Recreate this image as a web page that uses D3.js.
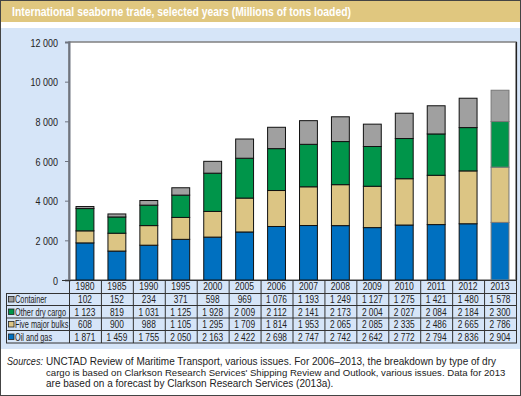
<!DOCTYPE html>
<html>
<head>
<meta charset="utf-8">
<script src="https://cdn.jsdelivr.net/npm/d3@7"></script>
<style>
  html, body { margin: 0; padding: 0; background: #fff; }
  svg { display: block; }
</style>
</head>
<body>
<svg id="chart" width="521" height="396"></svg>
<script>
const title = "International seaborne trade, selected years (Millions of tons loaded)";
const years = ["1980","1985","1990","1995","2000","2005","2006","2007","2008","2009","2010","2011","2012","2013"];
const seriesNames = ["Oil and gas","Five major bulks","Other dry cargo","Container"];
const oilGas       = [1871,1459,1755,2050,2163,2422,2698,2747,2742,2642,2772,2794,2836,2904];
const fiveBulks    = [608,900,988,1105,1295,1709,1814,1953,2065,2085,2335,2486,2665,2786];
const otherDry     = [1123,819,1031,1125,1928,2009,2112,2141,2173,2004,2027,2084,2184,2300];
const container    = [102,152,234,371,598,969,1076,1193,1249,1127,1275,1421,1480,1578];
const yTicks = [0,2000,4000,6000,8000,10000,12000];
const tableOrder = ["Container","Other dry cargo","Five major bulks","Oil and gas"];
const sourceLines = [
  "UNCTAD Review of Maritime Transport, various issues. For 2006\u20132013, the breakdown by type of dry",
  "cargo is based on Clarkson Research Services' Shipping Review and Outlook, various issues. Data for 2013",
  "are based on a forecast by Clarkson Research Services (2013a)."
];

const valuesBySeries = {
  "Oil and gas": oilGas,
  "Five major bulks": fiveBulks,
  "Other dry cargo": otherDry,
  "Container": container
};
const colors = {
  "Oil and gas": "#0070c0",
  "Five major bulks": "#dcc584",
  "Other dry cargo": "#00954a",
  "Container": "#a0a0a0"
};

const SANS = "'Liberation Sans', Arial, sans-serif";
const fmt = v => d3.format(",")(v).replace(/,/g, " ");

const svg = d3.select("#chart");

function narrowText(parent, x, y, str, size, anchor, sx) {
  return parent.append("text")
    .attr("transform", `translate(${x},${y}) scale(${sx},1)`)
    .attr("text-anchor", anchor)
    .attr("font-family", SANS)
    .attr("font-size", size)
    .attr("fill", "#222")
    .text(str);
}

// backgrounds
svg.append("rect").attr("x",0).attr("y",0).attr("width",521).attr("height",396).attr("fill","#fff");
svg.append("rect").attr("x",0).attr("y",0).attr("width",521).attr("height",22).attr("fill","#e0c77f");
svg.append("rect").attr("x",0).attr("y",28).attr("width",521).attr("height",321).attr("fill","#d6e5f8");

svg.append("text")
  .attr("x", 12).attr("y", 15.5)
  .attr("fill", "#fff")
  .attr("font-family", SANS)
  .attr("font-weight", "bold")
  .attr("font-size", 12.5)
  .attr("textLength", 339)
  .attr("lengthAdjust", "spacingAndGlyphs")
  .text(title);

// scales
const x = d3.scaleBand().domain(years).range([69, 516]).padding(0);
const y = d3.scaleLinear().domain([0, 12000]).range([280, 42]);
const barW = x.bandwidth() * 0.56;

// plot area
svg.append("rect").attr("x",69).attr("y",42).attr("width",447).attr("height",238)
  .attr("fill","#fff").attr("stroke","#808080").attr("stroke-width",1.5);
svg.append("line").attr("x1",516.5).attr("x2",516.5).attr("y1",42).attr("y2",280)
  .attr("stroke","#222").attr("stroke-width",1.2);

// y axis
const yAxis = svg.append("g")
  .attr("transform", "translate(69,0)")
  .call(d3.axisLeft(y).tickValues(yTicks).tickSize(4).tickFormat(fmt));
yAxis.select(".domain").attr("stroke", "#6e7480").attr("stroke-width", 2);
yAxis.selectAll(".tick line").attr("stroke", "#6e7480");
yAxis.selectAll(".tick text").remove();
yAxis.selectAll(".tick").each(function(d) {
  narrowText(d3.select(this), -11, 4, fmt(d), 11.5, "end", 0.78);
});

// stacked bars
const rows = years.map((yr, i) => {
  const o = { year: yr };
  seriesNames.forEach(s => o[s] = valuesBySeries[s][i]);
  return o;
});
const stack = d3.stack().keys(seriesNames)(rows);

const gBars = svg.append("g");
stack.forEach(layer => {
  gBars.selectAll(null)
    .data(layer)
    .join("rect")
    .attr("x", d => x(d.data.year) + (x.bandwidth() - barW) / 2)
    .attr("y", d => y(d[1]))
    .attr("width", barW)
    .attr("height", d => y(d[0]) - y(d[1]))
    .attr("fill", colors[layer.key])
    .attr("stroke", d => d.data.year === "2013" ? "#777" : "#111")
    .attr("stroke-width", 1);
});

// x axis baseline
svg.append("line").attr("x1",62).attr("x2",516).attr("y1",280.5).attr("y2",280.5)
  .attr("stroke","#333").attr("stroke-width",1.2);

// data table
const headerTop = 280, headerH = 13, rowH = 12.5;
const tableBottom = headerTop + headerH + rowH * tableOrder.length;
const gTable = svg.append("g");
const gridColor = "#333";

years.forEach(yr => {
  gTable.append("line")
    .attr("x1", x(yr) + 0.5).attr("x2", x(yr) + 0.5)
    .attr("y1", headerTop).attr("y2", tableBottom)
    .attr("stroke", gridColor).attr("stroke-width", 1);
});
gTable.append("line").attr("x1",516.5).attr("x2",516.5).attr("y1",headerTop).attr("y2",tableBottom)
  .attr("stroke",gridColor);
gTable.append("line").attr("x1",6.5).attr("x2",6.5).attr("y1",headerTop+headerH).attr("y2",tableBottom)
  .attr("stroke",gridColor);
gTable.append("line").attr("x1",6).attr("x2",517).attr("y1",headerTop+headerH+0.5).attr("y2",headerTop+headerH+0.5)
  .attr("stroke",gridColor);
tableOrder.forEach((s, r) => {
  const yy = headerTop + headerH + rowH * (r + 1);
  gTable.append("line").attr("x1",6).attr("x2",517).attr("y1",yy).attr("y2",yy)
    .attr("stroke",gridColor);
});

years.forEach(yr => {
  narrowText(gTable, x(yr) + x.bandwidth() / 2, headerTop + 10, yr, 11, "middle", 0.78);
});

tableOrder.forEach((s, r) => {
  const top = headerTop + headerH + rowH * r;
  gTable.append("rect")
    .attr("x", 8.5).attr("y", top + 3.5).attr("width", 5.5).attr("height", 5.5)
    .attr("fill", colors[s]).attr("stroke", "#222").attr("stroke-width", 0.8);
  narrowText(gTable, 15, top + 10, s, 10.5, "start", 0.7);
  valuesBySeries[s].forEach((v, i) => {
    narrowText(gTable, x(years[i]) + x.bandwidth() / 2, top + 10, fmt(v), 11, "middle", 0.76);
  });
});

// sources
const src = svg.append("g");
src.append("text").attr("x", 7).attr("y", 365)
  .attr("font-family", SANS).attr("font-size", 10).attr("font-style", "italic").attr("fill", "#222")
  .attr("textLength", 36).attr("lengthAdjust", "spacingAndGlyphs")
  .text("Sources:");
const srcSizes = [10, 9.6, 10];
sourceLines.forEach((line, i) => {
  src.append("text").attr("x", 46).attr("y", 365 + i * 11)
    .attr("font-family", SANS).attr("font-size", srcSizes[i]).attr("fill", "#222")
    .text(line);
});

// outer border
svg.append("rect").attr("x",0.5).attr("y",0.5).attr("width",520).attr("height",395)
  .attr("fill","none").attr("stroke","#444").attr("stroke-width",1);
</script>
</body>
</html>
